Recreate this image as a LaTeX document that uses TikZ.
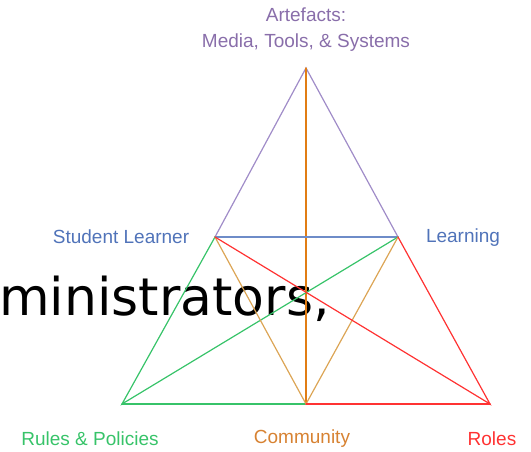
\documentclass[tikz,border=0pt]{standalone}
\usepackage{fontspec}
\setmainfont{Liberation Sans}
\newfontfamily\bigfont{DejaVu Sans}
\usetikzlibrary{calc}

\definecolor{artpurple}{RGB}{137,110,170}
\definecolor{artline}{RGB}{160,140,200}
\definecolor{stublue}{RGB}{80,115,185}
\definecolor{stuline}{RGB}{110,140,200}
\definecolor{rulegreen}{RGB}{55,195,105}
\definecolor{comorange}{RGB}{215,130,50}
\definecolor{comline}{RGB}{225,125,20}
\definecolor{comgold}{RGB}{220,165,85}
\definecolor{rolered}{RGB}{255,50,50}

\tikzset{
  lbl/.style={font=\fontsize{19}{26}\selectfont, align=center, inner sep=0pt},
  edge/.style={line width=1.2pt, line cap=round}
}

\begin{document}
\begin{tikzpicture}[x=1pt,y=-1pt]
  \useasboundingbox (0,0) rectangle (531,452);

  % overlaid heading text
  \node[anchor=west, inner sep=0pt, font=\bigfont\fontsize{52}{60}\selectfont] (head) at (-1,299) {ministrators,};

  % corners
  \coordinate (art) at (306,68);
  \coordinate (stu) at (215,237);
  \coordinate (lrn) at (398,237);
  \coordinate (rul) at (122,404);
  \coordinate (com) at (306,404);
  \coordinate (rol) at (490,404);

  % labels
  \node[lbl, text=artpurple] (artlbl) at (306,30) {Artefacts:\\Media, Tools, \& Systems};
  \node[lbl, text=stublue] (stulbl) at (121,237) {Student Learner};
  \node[lbl, text=stublue] (lrnlbl) at (463,238) {Learning};
  \node[lbl, text=rulegreen] (rullbl) at (90,439) {Rules \& Policies};
  \node[lbl, text=comorange] (comlbl) at (302,439) {Community};
  \node[lbl, text=rolered] (rollbl) at (492,439) {Roles};

  % triangle lines
  \draw[edge, artline] (stu) -- (art) -- (lrn);
  \draw[edge, comline] (art) -- (com);
  \draw[edge, stuline] (stu) -- (lrn);
  \draw[edge, rulegreen] (lrn) -- (rul) -- (stu);
  \draw[edge, rulegreen] (rul) -- (com);
  \draw[edge, comgold] (stu) -- (com) -- (lrn);
  \draw[edge, rolered] (stu) -- (rol) -- (lrn);
  \draw[edge, rolered] (com) -- (rol);
\end{tikzpicture}
\end{document}
